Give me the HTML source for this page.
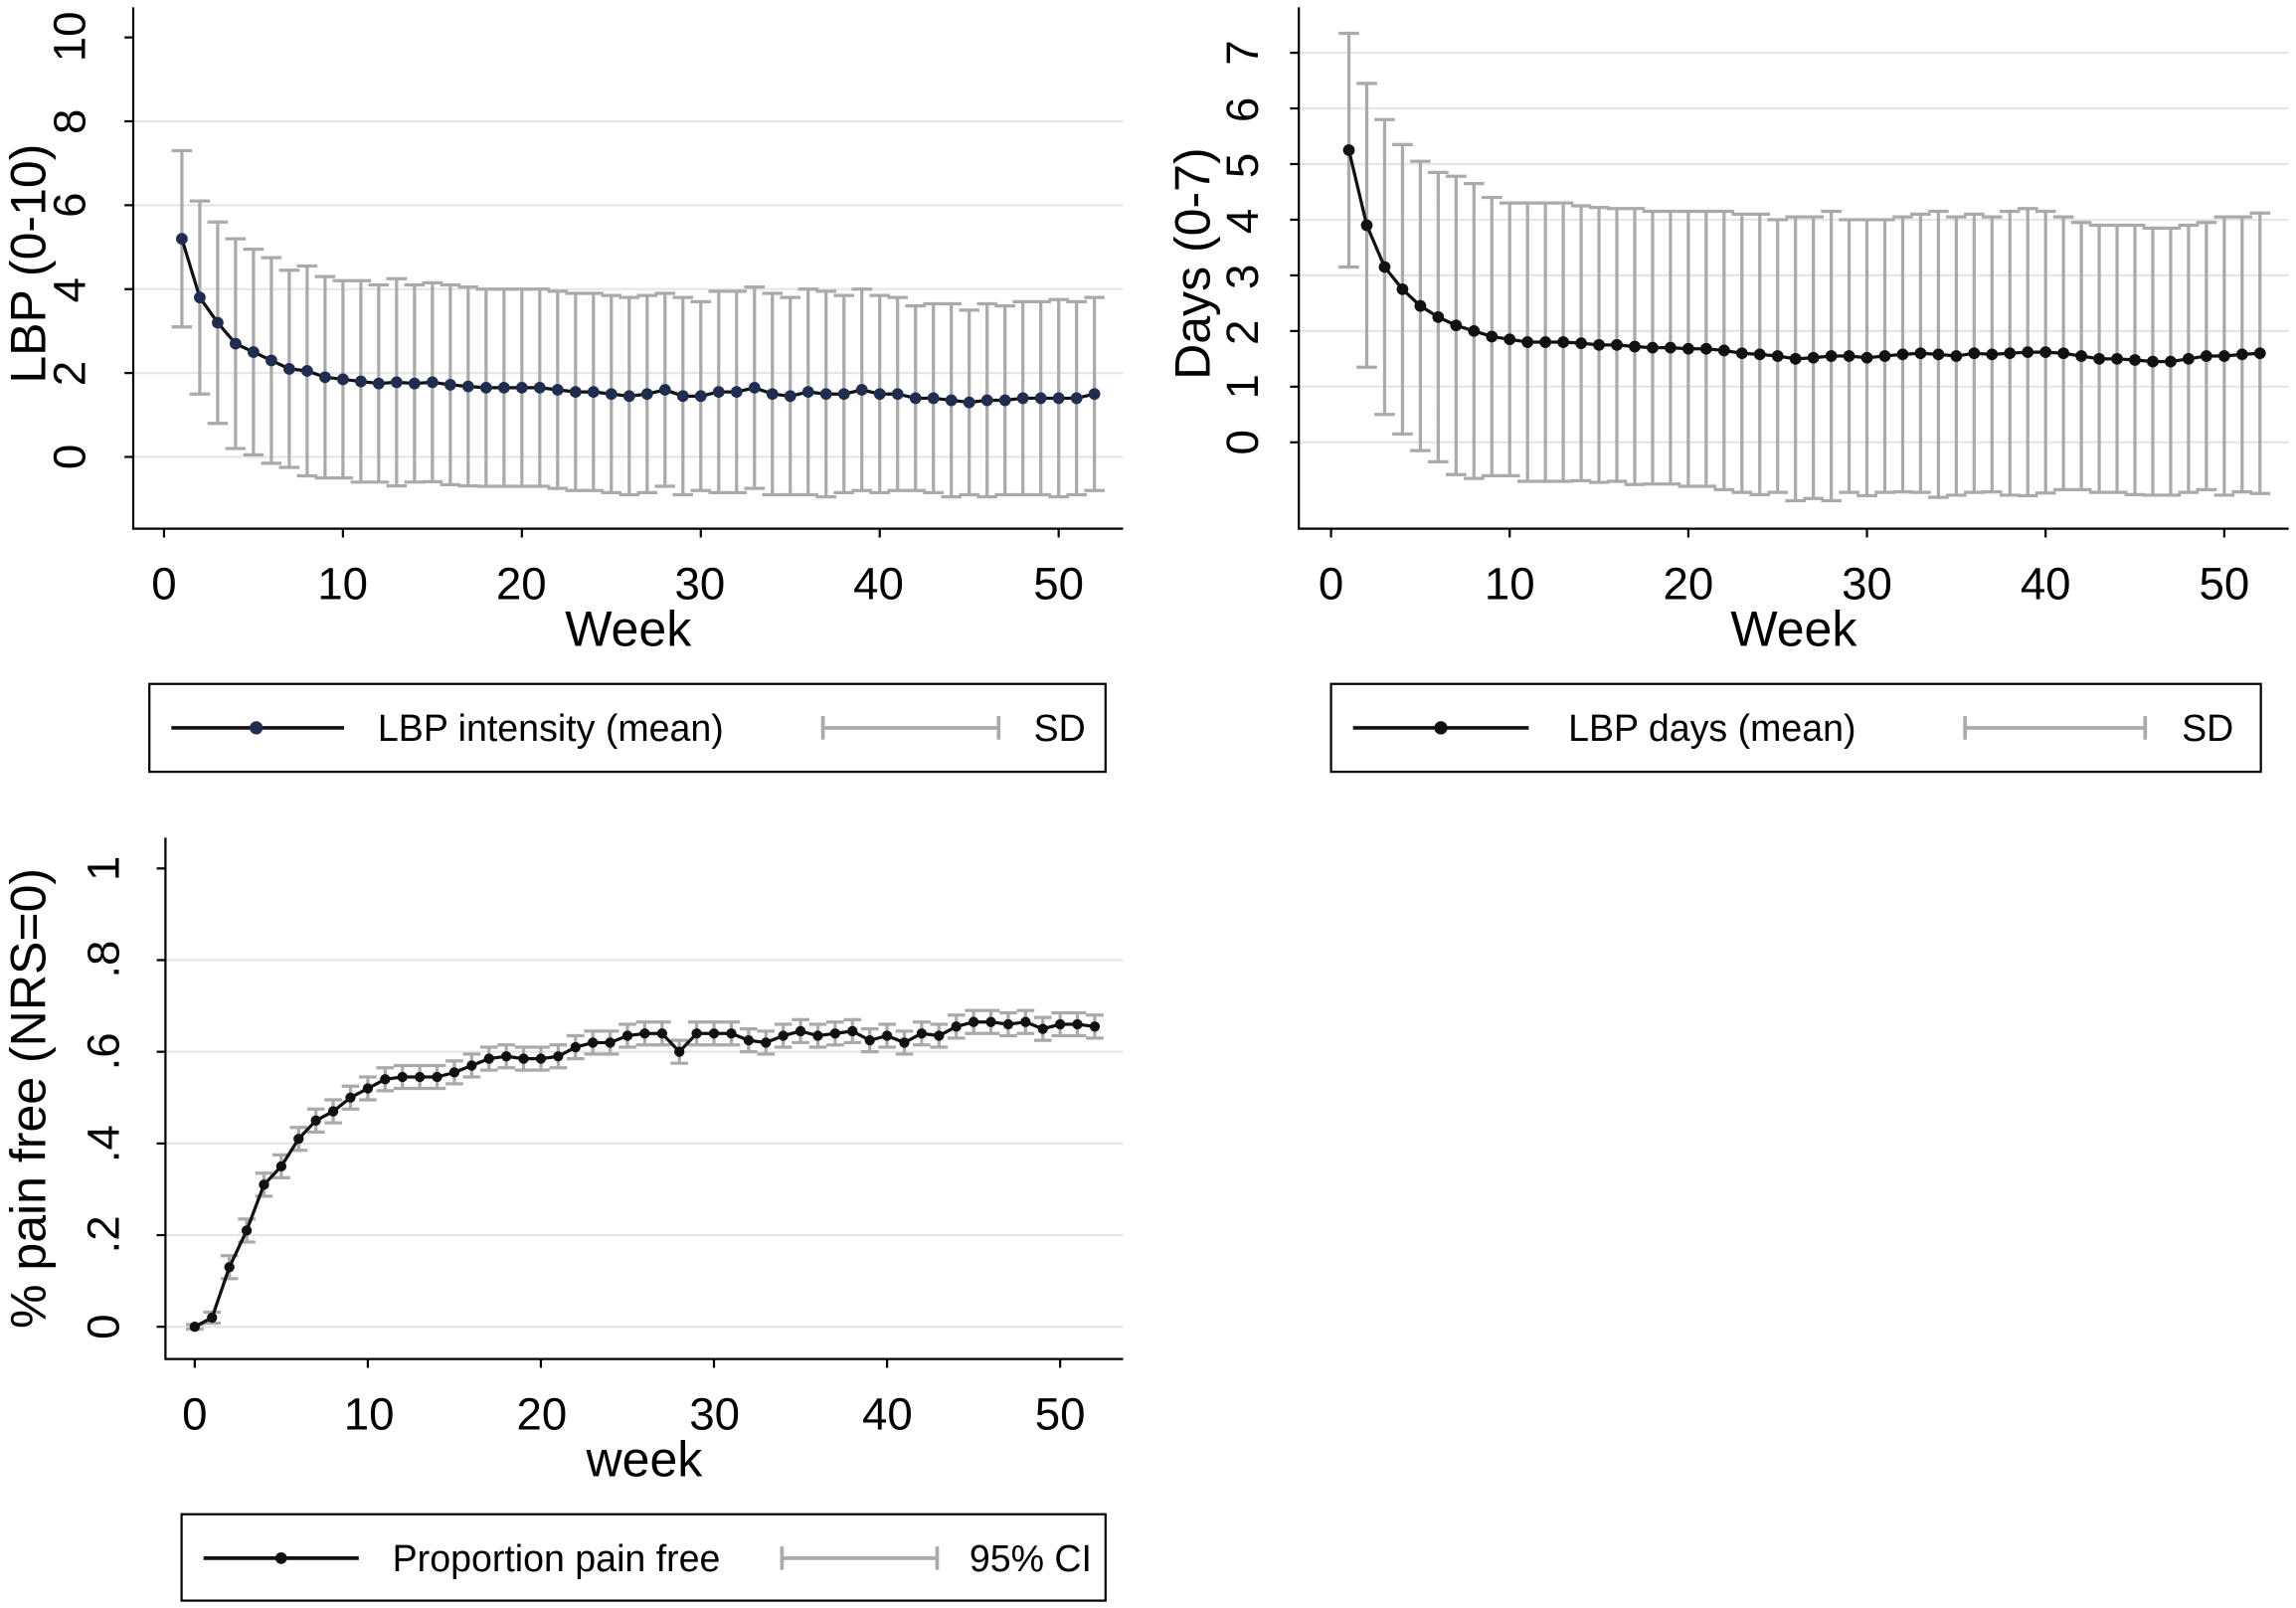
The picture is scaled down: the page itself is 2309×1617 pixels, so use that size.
<!DOCTYPE html>
<html><head><meta charset="utf-8"><style>
html,body{margin:0;padding:0;background:#fff;}
svg{display:block;font-family:"Liberation Sans",Arial,sans-serif;}
</style></head><body>
<svg id="s" width="2309" height="1617" viewBox="0 0 1568 1098" xmlns="http://www.w3.org/2000/svg">
<rect width="1568" height="1098" fill="#fff"/>
<g id="g1"></g><g id="g2"></g><g id="g3"></g>
<g stroke="#000" stroke-width="1.5" fill="none">
<path d="M91,5V361H767"/>
<path d="M887,5V361H1563"/>
<path d="M113,572V928H767"/>
</g>
<g font-size="31" fill="#000" text-anchor="middle">
<text transform="translate(58,312) rotate(-90)">0</text>
<text transform="translate(58,255) rotate(-90)">2</text>
<text transform="translate(58,198) rotate(-90)">4</text>
<text transform="translate(58,140) rotate(-90)">6</text>
<text transform="translate(58,83) rotate(-90)">8</text>
<text transform="translate(58,25) rotate(-90)">10</text>
<text transform="translate(31,180) rotate(-90)" font-size="34">LBP (0-10)</text>
<text x="112" y="409">0</text><text x="234" y="409">10</text><text x="356" y="409">20</text><text x="478" y="409">30</text><text x="600" y="409">40</text><text x="723" y="409">50</text>
<text x="429" y="441" font-size="34">Week</text>
<text transform="translate(859,302) rotate(-90)">0</text>
<text transform="translate(859,264) rotate(-90)">1</text>
<text transform="translate(859,227) rotate(-90)">2</text>
<text transform="translate(859,189) rotate(-90)">3</text>
<text transform="translate(859,151) rotate(-90)">4</text>
<text transform="translate(859,113) rotate(-90)">5</text>
<text transform="translate(859,75) rotate(-90)">6</text>
<text transform="translate(859,36) rotate(-90)">7</text>
<text transform="translate(826,180) rotate(-90)" font-size="34">Days (0-7)</text>
<text x="909" y="409">0</text><text x="1031" y="409">10</text><text x="1153" y="409">20</text><text x="1275" y="409">30</text><text x="1397" y="409">40</text><text x="1519" y="409">50</text>
<text x="1225" y="441" font-size="34">Week</text>
<text transform="translate(81,906) rotate(-90)">0</text>
<text transform="translate(81,843) rotate(-90)">.2</text>
<text transform="translate(81,781) rotate(-90)">.4</text>
<text transform="translate(81,718) rotate(-90)">.6</text>
<text transform="translate(81,655) rotate(-90)">.8</text>
<text transform="translate(81,593) rotate(-90)">1</text>
<text transform="translate(31,750) rotate(-90)" font-size="34">% pain free (NRS=0)</text>
<text x="133" y="976">0</text><text x="252" y="976">10</text><text x="370" y="976">20</text><text x="488" y="976">30</text><text x="606" y="976">40</text><text x="724" y="976">50</text>
<text x="440" y="1008" font-size="34">week</text>
</g>
<g fill="none" stroke="#000" stroke-width="1.5">
<rect x="102" y="467" width="653" height="60"/>
<rect x="909" y="467" width="635" height="60"/>
<rect x="124" y="1034" width="631" height="59"/>
</g>
<g stroke-width="2.5" stroke="#111">
<line x1="117" y1="497" x2="235" y2="497"/>
<line x1="924" y1="497" x2="1044" y2="497"/>
<line x1="139" y1="1064" x2="245" y2="1064"/>
</g>
<circle cx="175" cy="497" r="4.5" fill="#1f2d50"/>
<circle cx="984" cy="497" r="4.5" fill="#111"/>
<circle cx="192" cy="1064" r="4" fill="#111"/>
<g stroke="#aaa" stroke-width="2.5">
<path d="M562,497H682M562,489V505M682,489V505"/>
<path d="M1342,497H1465M1342,489V505M1465,489V505"/>
<path d="M534,1064H640M534,1056V1072M640,1056V1072"/>
</g>
<g font-size="25.5" fill="#000">
<text x="258" y="506">LBP intensity (mean)</text>
<text x="706" y="506">SD</text>
<text x="1071" y="506">LBP days (mean)</text>
<text x="1490" y="506">SD</text>
<text x="268" y="1073">Proportion pain free</text>
<text x="662" y="1073">95% CI</text>
</g>
</svg>
<script>
var NS="http://www.w3.org/2000/svg";
function el(p,t,a){var e=document.createElementNS(NS,t);for(var k in a)e.setAttribute(k,a[k]);p.appendChild(e);return e;}
function panel(gid,o){
 var g=document.getElementById(gid);
 o.grid.forEach(function(v){el(g,"line",{x1:o.x0,x2:o.xr,y1:o.Y(v),y2:o.Y(v),stroke:"#e6e6e6","stroke-width":1.5});});
 o.xt.forEach(function(v){el(g,"line",{x1:o.X(v),x2:o.X(v),y1:o.yb,y2:o.yb+6,stroke:"#000","stroke-width":1.5});});
 o.yt.forEach(function(v){el(g,"line",{x1:o.x0-6,x2:o.x0,y1:o.Y(v),y2:o.Y(v),stroke:"#000","stroke-width":1.5});});
 var d="";
 o.m.forEach(function(v,i){var w=o.w0+i,x=o.X(w),u=o.up[i],l=o.lo[i];
  d+="M"+x+","+o.Y(u)+"V"+o.Y(l)+"M"+(x-o.cap)+","+o.Y(u)+"h"+(2*o.cap)+"M"+(x-o.cap)+","+o.Y(l)+"h"+(2*o.cap);});
 el(g,"path",{d:d,stroke:"#aaa","stroke-width":2.2,fill:"none"});
 var pts=o.m.map(function(v,i){return o.X(o.w0+i)+","+o.Y(v);}).join(" ");
 el(g,"polyline",{points:pts,stroke:"#111","stroke-width":2.2,fill:"none"});
 o.m.forEach(function(v,i){el(g,"circle",{cx:o.X(o.w0+i),cy:o.Y(v),r:o.r,fill:o.mc});});
}
var m1=[5.2,3.8,3.2,2.7,2.5,2.3,2.1,2.05,1.9,1.85,1.8,1.75,1.78,1.75,1.78,1.72,1.68,1.65,1.65,1.65,1.65,1.6,1.55,1.55,1.5,1.45,1.5,1.6,1.45,1.45,1.55,1.55,1.65,1.5,1.45,1.55,1.5,1.5,1.6,1.5,1.5,1.4,1.4,1.35,1.3,1.35,1.35,1.4,1.4,1.4,1.4,1.5];
var u1=[7.3,6.1,5.6,5.2,4.95,4.75,4.45,4.55,4.3,4.2,4.2,4.1,4.25,4.1,4.15,4.1,4.05,4.0,4.0,4.0,4.0,3.95,3.9,3.9,3.85,3.8,3.85,3.9,3.8,3.7,3.95,3.95,4.05,3.9,3.8,4.0,3.95,3.85,4.0,3.85,3.8,3.6,3.65,3.65,3.5,3.65,3.6,3.7,3.7,3.75,3.7,3.8];
panel("g1",{x0:91,xr:767,yb:361,X:function(w){return 112+12.22*w;},Y:function(v){return 312-28.65*v;},
 grid:[0,2,4,6,8],xt:[0,10,20,30,40,50],yt:[0,2,4,6,8,10],m:m1,up:u1,lo:m1.map(function(v,i){return 2*v-u1[i];}),w0:1,cap:7,r:4,mc:"#1f2d50"});
var m2=[5.25,3.9,3.15,2.75,2.45,2.25,2.1,2.0,1.9,1.85,1.8,1.8,1.8,1.78,1.75,1.75,1.72,1.7,1.7,1.68,1.68,1.65,1.6,1.58,1.55,1.5,1.52,1.55,1.55,1.52,1.55,1.58,1.6,1.58,1.55,1.6,1.58,1.6,1.62,1.62,1.6,1.55,1.5,1.5,1.48,1.45,1.45,1.5,1.55,1.55,1.58,1.6];
var u2=[7.35,6.45,5.8,5.35,5.05,4.85,4.78,4.65,4.4,4.3,4.3,4.3,4.3,4.25,4.22,4.2,4.2,4.15,4.15,4.15,4.15,4.15,4.1,4.1,4.0,4.05,4.05,4.15,4.0,4.0,4.0,4.05,4.1,4.15,4.05,4.1,4.05,4.15,4.2,4.15,4.05,3.95,3.9,3.9,3.9,3.85,3.85,3.9,3.95,4.05,4.05,4.12];
panel("g2",{x0:887,xr:1563,yb:361,X:function(w){return 909+12.2*w;},Y:function(v){return 302-38*v;},
 grid:[0,1,2,3,4,5,6,7],xt:[0,10,20,30,40,50],yt:[0,1,2,3,4,5,6,7],m:m2,up:u2,lo:m2.map(function(v,i){return 2*v-u2[i];}),w0:1,cap:7,r:4,mc:"#111"});
var m3=[0,0.02,0.13,0.21,0.31,0.35,0.41,0.45,0.47,0.5,0.52,0.54,0.545,0.545,0.545,0.555,0.57,0.585,0.59,0.585,0.585,0.59,0.61,0.62,0.62,0.635,0.64,0.64,0.60,0.64,0.64,0.64,0.625,0.62,0.635,0.645,0.635,0.64,0.645,0.625,0.635,0.62,0.64,0.635,0.655,0.665,0.665,0.66,0.665,0.65,0.66,0.66,0.655];
var e3=m3.map(function(v,i){return i==0?0.005:(i==1?0.012:0.025);});
panel("g3",{x0:113,xr:767,yb:928,X:function(w){return 133+11.82*w;},Y:function(v){return 906-313*v;},
 grid:[0,0.2,0.4,0.6,0.8],xt:[0,10,20,30,40,50],yt:[0,0.2,0.4,0.6,0.8,1],m:m3,up:m3.map(function(v,i){return v+e3[i];}),lo:m3.map(function(v,i){return v-e3[i];}),w0:0,cap:6,r:3.5,mc:"#111"});
</script>
</body></html>
